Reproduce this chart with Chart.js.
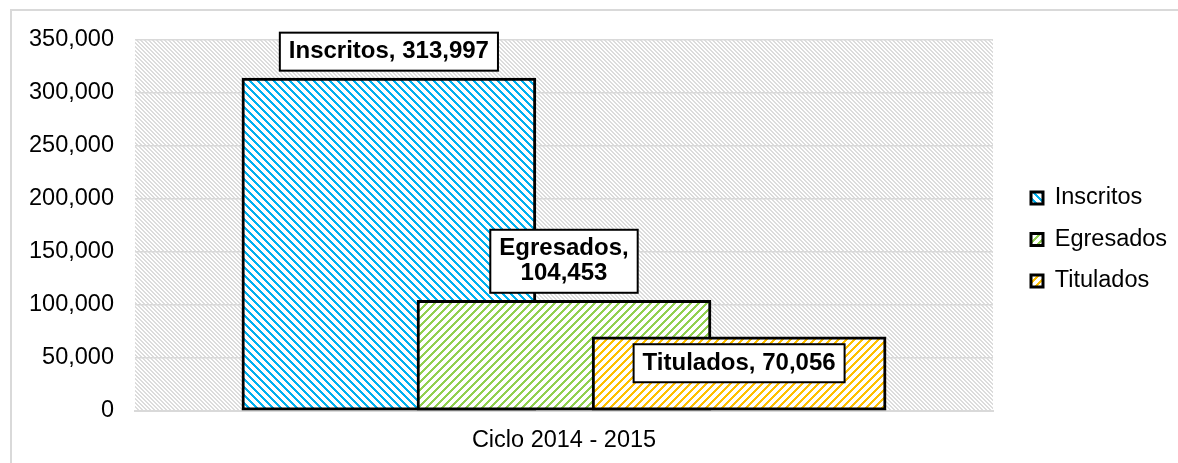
<!DOCTYPE html>
<html>
<head>
<meta charset="utf-8">
<title>Inscritos, Egresados y Titulados</title>
<script src="https://cdn.jsdelivr.net/npm/chart.js@4.4.1/dist/chart.umd.min.js"></script>
<style>
  html, body { margin: 0; padding: 0; background: #fff; overflow: hidden; }
  #frame { position: absolute; left: 10px; top: 9px; width: 1300px; height: 600px; border: 2px solid #d9d9d9; }
  #wrap { position: absolute; left: 0; top: 0; width: 1178px; height: 463px; }
</style>
</head>
<body>
<div id="frame"></div>
<div id="wrap"><canvas id="chart" width="1178" height="463"></canvas></div>
<script>
// --- Data ---
const cycleLabels = ['Ciclo 2014 - 2015'];
const seriesNames = ['Inscritos', 'Egresados', 'Titulados'];
const seriesValues = [313997, 104453, 70056];
const yTickValues = [0, 50000, 100000, 150000, 200000, 250000, 300000, 350000];

// --- Styles ---
const seriesColors = ['#00B0F0', '#92D050', '#FFC000'];
const stripeDirs = ['down', 'up', 'up'];
const labelPlacement = ['above', 'above', 'inside'];
const labelWrap = [false, true, false];
const FONT = '"Liberation Sans", Arial, sans-serif';

const fmt = v => Number(v).toLocaleString('en-US');

// diagonal hatch tile; 'down' = \ , 'up' = /
const makeStripes = (color, dir, size, width, bg) => {
  const c = document.createElement('canvas');
  c.width = size; c.height = size;
  const g = c.getContext('2d');
  g.fillStyle = bg;
  g.fillRect(0, 0, size, size);
  g.fillStyle = color;
  for (let y = 0; y < size; y++) {
    for (let x = 0; x < size; x++) {
      const k = dir === 'down' ? ((x - y) % size + size) % size : (x + y) % size;
      if (k < width) g.fillRect(x, y, 1, 1);
    }
  }
  return g.createPattern(c, 'repeat');
};

const barPatterns = seriesColors.map((c, i) => makeStripes(c, stripeDirs[i], 8, 3, '#ffffff'));
const plotPattern = makeStripes('#dcdcdc', 'down', 4, 2, '#ffffff');

// hatched plot area behind the grid
const plotBackground = {
  id: 'plotBackground',
  beforeDraw(chart) {
    const { ctx, chartArea: a } = chart;
    ctx.save();
    ctx.fillStyle = plotPattern;
    ctx.fillRect(a.left, a.top, a.right - a.left, a.bottom - a.top);
    ctx.restore();
  }
};

// boxed "Name, value" labels on each bar
const valueLabels = {
  id: 'valueLabels',
  afterDatasetsDraw(chart, args, opts) {
    const ctx = chart.ctx;
    ctx.save();
    ctx.font = `bold ${opts.size}px ${FONT}`;
    chart.data.datasets.forEach((ds, i) => {
      const bar = chart.getDatasetMeta(i).data[0];
      if (!bar) return;
      const name = ds.label + ',';
      const num = fmt(ds.data[0].y);
      const lines = labelWrap[i] ? [name, num] : [name + ' ' + num];
      const textW = Math.max(...lines.map(l => ctx.measureText(l).width));
      const w = textW + opts.padX * 2;
      const h = lines.length * opts.lineHeight + opts.padY * 2;
      const top = labelPlacement[i] === 'inside' ? bar.y + opts.gap : bar.y - opts.gap - h;
      const left = bar.x - w / 2;
      ctx.fillStyle = '#fff';
      ctx.fillRect(left, top, w, h);
      ctx.lineWidth = 2;
      ctx.strokeStyle = '#000';
      ctx.strokeRect(left, top, w, h);
      ctx.fillStyle = '#000';
      ctx.textAlign = 'center';
      ctx.textBaseline = 'middle';
      lines.forEach((l, k) => {
        ctx.fillText(l, bar.x, top + opts.padY + opts.lineHeight * (k + 0.5));
      });
    });
    ctx.restore();
  }
};

Chart.defaults.font.family = FONT;
Chart.defaults.font.size = 23.5;
Chart.defaults.color = '#000';

// empty spacer axis, only reserves room next to the plot
const spacer = (position, size) => ({
  type: 'linear',
  position,
  display: true,
  grid: { display: false, drawTicks: false },
  border: { display: false },
  ticks: { display: false },
  afterFit: s => {
    if (s.isHorizontal()) s.height = size; else s.width = size;
  }
});

const chart = new Chart(document.getElementById('chart'), {
  type: 'bar',
  data: {
    labels: cycleLabels,
    datasets: seriesNames.map((name, i) => ({
      label: name,
      data: [{ x: i, y: seriesValues[i] }],
      xAxisID: 'xb',
      backgroundColor: barPatterns[i],
      borderColor: '#000',
      borderWidth: 3,
      borderSkipped: false,
      grouped: false,
      barThickness: 294,
      // later series sit on top of earlier ones
      order: seriesNames.length - i
    }))
  },
  options: {
    responsive: false,
    devicePixelRatio: 1,
    animation: false,
    events: [],
    layout: { padding: { top: 25, right: 7, bottom: 9, left: 0 } },
    scales: {
      x: {
        type: 'category',
        position: 'bottom',
        offset: true,
        grid: { display: false, drawTicks: false },
        border: { color: '#d9d9d9', width: 2 },
        ticks: { padding: 15, color: '#000' },
        afterFit: s => { s.height = 43; }
      },
      xb: {
        type: 'linear',
        display: false,
        offset: false,
        min: -1.45,
        max: 3.45
      },
      xt: spacer('top', 15),
      y: {
        min: 0,
        max: 350000,
        afterBuildTicks: s => { s.ticks = yTickValues.map(v => ({ value: v })); },
        ticks: { padding: 21, color: '#000', callback: v => fmt(v) },
        grid: { color: '#d9d9d9', lineWidth: 1.5, drawTicks: false },
        border: { display: false },
        afterFit: s => { s.width = 135; }
      },
      yr: spacer('right', 20)
    },
    plugins: {
      tooltip: { enabled: false },
      legend: {
        position: 'right',
        maxWidth: 158,
        labels: {
          boxWidth: 12,
          boxHeight: 12,
          padding: 18,
          color: '#000',
          font: { size: 23.5 },
          sort: (a, b) => a.datasetIndex - b.datasetIndex
        }
      },
      valueLabels: { size: 24, padX: 9, padY: 6.5, lineHeight: 25, gap: 7.5 }
    }
  },
  plugins: [plotBackground, valueLabels]
});
</script>
</body>
</html>
